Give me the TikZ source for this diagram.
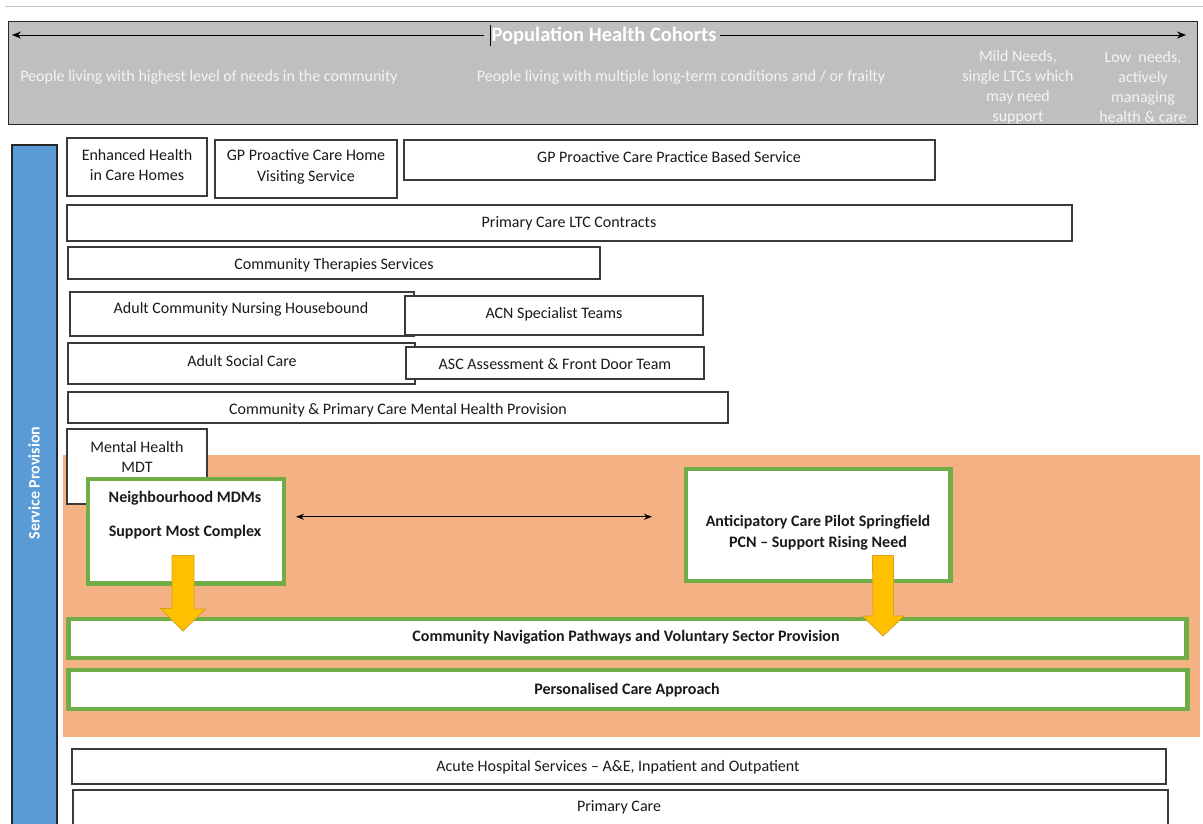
\documentclass[tikz,border=0pt]{standalone}
\usepackage{fontspec}
\setmainfont{Carlito}
\usetikzlibrary{arrows.meta,calc}

\definecolor{hdrgrey}{HTML}{BFBFBF}
\definecolor{hdrtext}{HTML}{F4F4F4}
\definecolor{rulegrey}{HTML}{C8C8C8}
\definecolor{spblue}{HTML}{5B9BD5}
\definecolor{zone}{HTML}{F4B183}
\definecolor{leaf}{HTML}{70AD47}
\definecolor{amber}{HTML}{FFC000}
\definecolor{amberedge}{HTML}{D9A21B}
\definecolor{boxline}{HTML}{3A3A3A}
\definecolor{ink}{HTML}{1A1A1A}

% rectangle node spanning (x1,y1)-(x2,y2): style, name, x1, y1, x2, y2, text
\newcommand\panel[7]{%
  \node[#1, minimum width={(#5-#3)*1pt}, minimum height={(#6-#4)*1pt}]
    (#2) at ({(#3+#5)/2},{(#4+#6)/2}) {#7};}

\begin{document}
\begin{tikzpicture}[x=1pt,y=-1pt,
  base/.style={inner sep=0pt, outer sep=0pt, align=center, text=ink,
    font=\fontsize{16}{20.5}\selectfont},
  box/.style={base, draw=boxline, fill=white, line width=1.2pt},
  gbox/.style={base, draw=leaf, fill=white, line width=4.5pt,
    font=\bfseries\fontsize{16}{20.5}\selectfont},
  txt/.style={base},
  btxt/.style={base, font=\bfseries\fontsize{16}{21}\selectfont},
  htxt/.style={base, text=hdrtext},
  hdrbox/.style={draw=black!85, fill=hdrgrey, line width=1pt, inner sep=0pt},
  blockarrow/.style={fill=amber, draw=amberedge, line width=0.8pt, line join=miter},
  conn/.style={line width=1pt, black, {Stealth[length=8pt,width=6pt]}-{Stealth[length=8pt,width=6pt]}},
  hconn/.style={line width=1pt, black, -{Stealth[length=9pt,width=7pt]}}
]
\useasboundingbox (0,0) rectangle (1203,823);

% thin rule above the header
\coordinate (ruleL) at (5,6);
\coordinate (ruleR) at (1203,6);
\draw[rulegrey, line width=1pt] (ruleL) -- (ruleR);

% ---- header: population health cohorts ----
\panel{hdrbox}{cohorts}{8}{21}{1197}{124}{}
\node[base, text=white, font=\bfseries\fontsize{20.5}{24}\selectfont, inner xsep=4pt]
  (title) at (604,36) {Population Health Cohorts};
\coordinate (cohL) at (12,35);
\coordinate (cohR) at (1186,35);
\draw[hconn] ([xshift=-4pt]title.west |- cohL) -- (cohL);
\draw[hconn] (title.east |- cohR) -- (cohR);
\coordinate (tickT) at (490,25);
\coordinate (tickB) at (490,46);
\draw[black, line width=0.8pt] (tickT) -- (tickB);

\node[htxt] (c1) at (209,77) {People living with highest level of needs in the community};
\node[htxt] (c2) at (681,77) {People living with multiple long-term conditions and / or frailty};
\node[htxt, font=\fontsize{16}{20}\selectfont] (c3) at (1018,87)
  {Mild Needs,\\single LTCs which\\may need\\support};
\node[htxt, font=\fontsize{16}{20}\selectfont] (c4) at (1143,87)
  {Low\ \ needs,\\actively\\managing\\health \& care};

% ---- service provision side bar ----
\panel{box, fill=spblue, draw=black!85}{spbar}{12}{145}{57}{830}{}
\node[base, text=white, font=\bfseries\fontsize{16}{20}\selectfont, rotate=90]
  (sptext) at (34,483) {Service Provision};

% ---- services ----
\panel{box}{ehch}{67}{138}{207}{196}{}
\node[txt] (ehch-t) at (137,165) {Enhanced Health\\in Care Homes};
\panel{box}{gpch}{215}{140}{397}{198}{}
\node[txt] (gpch-t) at (306,167) {GP Proactive Care Home\\Visiting Service};
\panel{box}{gppb}{404}{140}{935}{180}{}
\node[txt] (gppb-t) at (669,157) {GP Proactive Care Practice Based Service};
\panel{box}{ltc}{67}{205}{1072}{241}{}
\node[txt] (ltc-t) at (569,223) {Primary Care LTC Contracts};
\panel{box}{cts}{68}{247}{600}{279}{}
\node[txt] (cts-t) at (334,265) {Community Therapies Services};
\panel{box}{acnh}{70}{292}{414}{336}{}
\node[txt] (acnh-t) at (241,309) {Adult Community Nursing Housebound};
\panel{box}{acns}{405}{296}{703}{335}{}
\node[txt] (acns-t) at (554,314) {ACN Specialist Teams};
\panel{box}{asc}{68}{343}{415}{384}{}
\node[txt] (asc-t) at (242,361) {Adult Social Care};
\panel{box}{ascf}{406}{347}{704}{379}{}
\node[txt] (ascf-t) at (555,364) {ASC Assessment \& Front Door Team};
\panel{box}{cmh}{68}{392}{728}{423}{}
\node[txt] (cmh-t) at (398,410) {Community \& Primary Care Mental Health Provision};

% ---- neighbourhood zone ----
\panel{base, fill=zone}{nzone}{63}{455}{1200}{737}{}
\panel{box}{mhmdt}{67}{429}{207}{504}{}
\node[txt] (mhmdt-t) at (137,457) {Mental Health\\MDT};

\panel{gbox}{nbh}{88}{479}{284}{583.5}{}
\node[btxt] (nbh-t) at (185,515) {Neighbourhood MDMs\\[13pt]Support Most Complex};
\panel{gbox}{acp}{686}{469}{950.5}{581}{}
\node[btxt] (acp-t) at (818,532.5) {Anticipatory Care Pilot Springfield\\PCN -- Support Rising Need};

\coordinate (linkL) at ([xshift=12pt,yshift=14.5pt]nbh.east);
\coordinate (linkR) at ([xshift=-34pt]linkL -| acp.west);
\draw[conn] (linkL) -- (linkR);

\panel{gbox}{cnp}{68.3}{619.2}{1186.7}{657.8}{}
\node[btxt] (cnp-t) at (626,637) {Community Navigation Pathways and Voluntary Sector Provision};
\panel{gbox}{pca}{68.3}{670.2}{1187.7}{708.8}{}
\node[btxt] (pca-t) at (627,690) {Personalised Care Approach};

% ---- block arrows from the pilots down to the pathways ----
\coordinate (ya1) at (183,555.5);
\draw[blockarrow] (ya1) ++(-11,0) -- ++(22,0) -- ++(0,53.5) -- ++(11.5,0)
  -- (ya1 |- 0,631) -- ++(-22.5,-22.5) -- ++(11.5,0) -- cycle;
\coordinate (ya2) at (883,555.5);
\draw[blockarrow] (ya2) ++(-10.5,0) -- ++(21,0) -- ++(0,60.5) -- ++(10.5,0)
  -- (ya2 |- 0,636) -- ++(-20.5,-20) -- ++(10.5,0) -- cycle;

% ---- wider system ----
\panel{box}{ahs}{72}{749}{1166}{784}{}
\node[txt] (ahs-t) at (618,767) {Acute Hospital Services -- A\&E, Inpatient and Outpatient};
\panel{box}{pc}{73}{790}{1168}{840}{}
\node[txt] (pc-t) at (619,807) {Primary Care};

\end{tikzpicture}
\end{document}
